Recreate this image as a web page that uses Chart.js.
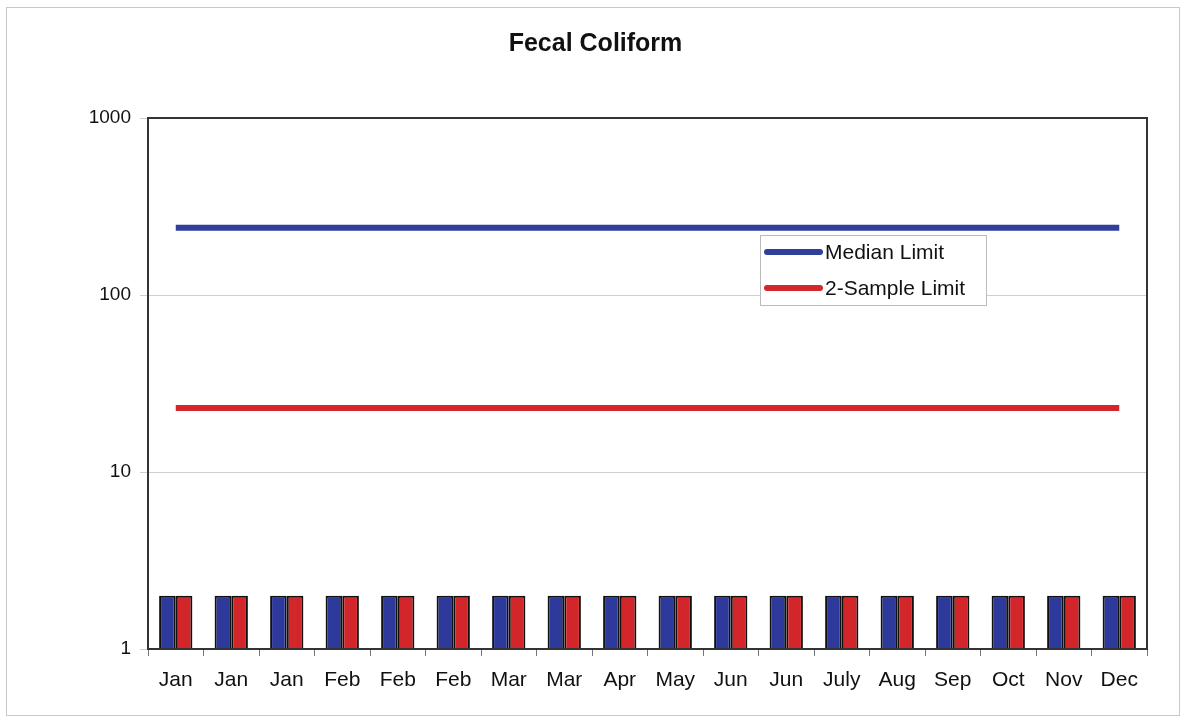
<!DOCTYPE html>
<html>
<head>
<meta charset="utf-8">
<script src="https://cdn.jsdelivr.net/npm/chart.js@4/dist/chart.umd.min.js"></script>
<style>
  html, body { margin: 0; padding: 0; background: #fff; }
  #wrap { width: 1185px; height: 724px; position: relative; }
</style>
</head>
<body>
<div id="wrap"><canvas id="chart"></canvas></div>
<script>
const months = ['Jan','Jan','Jan','Feb','Feb','Feb','Mar','Mar','Apr','May','Jun','Jun','July','Aug','Sep','Oct','Nov','Dec'];
const sampleA = [2,2,2,2,2,2,2,2,2,2,2,2,2,2,2,2,2,2];
const sampleB = [2,2,2,2,2,2,2,2,2,2,2,2,2,2,2,2,2,2];
const medianLimit = [240,240,240,240,240,240,240,240,240,240,240,240,240,240,240,240,240,240];
const twoSampleLimit = [23,23,23,23,23,23,23,23,23,23,23,23,23,23,23,23,23,23];
const yTicks = [1, 10, 100, 1000];
const chartTitle = 'Fecal Coliform';

const font = 'Liberation Sans, Arial, sans-serif';

// frame round the whole picture, title, box round the plot
const framePlugin = {
  id: 'frame',
  beforeDraw(chart) {
    const c = chart.ctx;
    c.save();
    c.fillStyle = '#fff';
    c.fillRect(0, 0, chart.width, chart.height);
    c.strokeStyle = '#c8c8c8';
    c.lineWidth = 1;
    c.strokeRect(6.5, 7.5, chart.width - 12, chart.height - 16);
    c.fillStyle = '#111';
    c.font = 'bold 25px ' + font;
    c.textAlign = 'center';
    c.textBaseline = 'middle';
    c.fillText(chartTitle, chart.width / 2 + 3, 44);
    c.restore();
  },
  afterDatasetsDraw(chart) {
    const a = chart.chartArea, c = chart.ctx;
    c.save();
    c.strokeStyle = '#333';
    c.lineWidth = 2;
    c.strokeRect(a.left, a.top, a.right - a.left, a.bottom - a.top);
    c.restore();
  }
};

// legend box inside the plot, lines only
const legendBox = {
  id: 'legendBox',
  afterDraw(chart) {
    const a = chart.chartArea, c = chart.ctx;
    const x = a.left + 612, y = a.top + 117, w = 226, h = 70;
    c.save();
    c.fillStyle = '#fff';
    c.fillRect(x, y, w, h);
    c.strokeStyle = '#bbb';
    c.lineWidth = 1;
    c.strokeRect(x + 0.5, y + 0.5, w, h);
    const items = chart.data.datasets.filter(d => d.type === 'line');
    c.font = '21px ' + font;
    c.textBaseline = 'middle';
    items.forEach((d, i) => {
      const ly = y + 17 + i * 36;
      c.strokeStyle = d.borderColor;
      c.lineWidth = 6;
      c.lineCap = 'round';
      c.beginPath();
      c.moveTo(x + 7, ly);
      c.lineTo(x + 60, ly);
      c.stroke();
      c.fillStyle = '#111';
      c.fillText(d.label, x + 65, ly + 1);
    });
    c.restore();
  }
};

new Chart(document.getElementById('chart'), {
  type: 'bar',
  data: {
    labels: months,
    datasets: [
      { type: 'line', label: 'Median Limit', data: medianLimit, borderColor: '#2f3f9c', borderWidth: 6, pointRadius: 0, order: 0 },
      { type: 'line', label: '2-Sample Limit', data: twoSampleLimit, borderColor: '#d4262b', borderWidth: 6, pointRadius: 0, order: 0 },
      { label: 'Sample 1', data: sampleA, backgroundColor: '#2d3a9b', borderColor: '#111', borderWidth: 2, order: 1 },
      { label: 'Sample 2', data: sampleB, backgroundColor: '#d2262b', borderColor: '#111', borderWidth: 2, order: 1 }
    ]
  },
  options: {
    responsive: true,
    maintainAspectRatio: false,
    animation: false,
    layout: { padding: { left: 0, right: 38, top: 118, bottom: 0 } },
    datasets: { bar: { barPercentage: 1, categoryPercentage: 0.6 } },
    plugins: {
      legend: { display: false },
      tooltip: { enabled: false },
      title: { display: false }
    },
    scales: {
      x: {
        grid: { display: true, drawOnChartArea: false, tickLength: 7, color: '#777', offset: true },
        border: { display: false },
        ticks: { color: '#111', font: { family: font, size: 21 }, maxRotation: 0, autoSkip: false, padding: 12 },
        afterFit(s) { s.height = 75; }
      },
      y: {
        type: 'logarithmic',
        min: 1,
        max: 1000,
        afterBuildTicks(s) { s.ticks = yTicks.map(v => ({ value: v })); },
        grid: { color: '#cfcfcf', tickLength: 8, drawTicks: true },
        border: { display: false },
        ticks: {
          color: '#111',
          font: { family: font, size: 19 },
          padding: 9,
          callback: v => String(v)
        },
        afterFit(s) { s.width = 148; }
      }
    }
  },
  plugins: [framePlugin, legendBox]
});
</script>
</body>
</html>
